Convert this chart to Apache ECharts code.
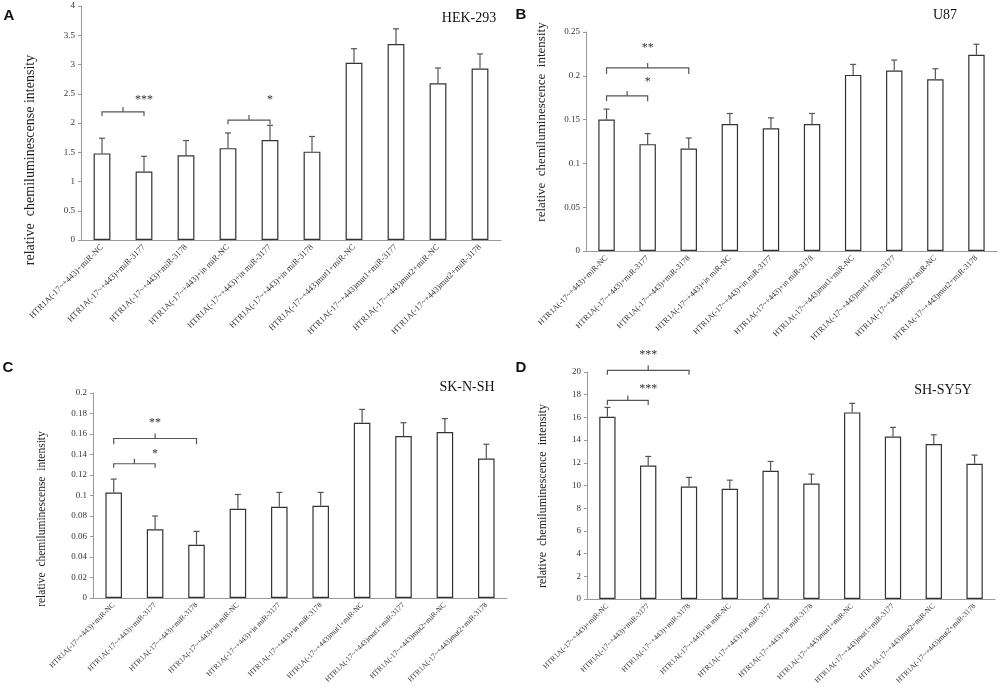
<!DOCTYPE html>
<html>
<head>
<meta charset="utf-8">
<script src="https://cdn.jsdelivr.net/npm/echarts@6/dist/echarts.min.js"></script>
<style>
  html, body { margin: 0; padding: 0; background: #fff; }
  #main { width: 1000px; height: 689px; }
</style>
</head>
<body>
<div id="main"></div>
<script>
const categories = [
  'HTR1A(-17~+443)+miR-NC',
  'HTR1A(-17~+443)+miR-3177',
  'HTR1A(-17~+443)+miR-3178',
  'HTR1A(-17~+443)+in miR-NC',
  'HTR1A(-17~+443)+in miR-3177',
  'HTR1A(-17~+443)+in miR-3178',
  'HTR1A(-17~+443)mut1+miR-NC',
  'HTR1A(-17~+443)mut1+miR-3177',
  'HTR1A(-17~+443)mut2+miR-NC',
  'HTR1A(-17~+443)mut2+miR-3178'
]

// HEK-293
const hekValues = [1.48, 1.17, 1.45, 1.57, 1.71, 1.51, 3.03, 3.35, 2.68, 2.93]
const hekErrors = [0.26, 0.26, 0.25, 0.26, 0.25, 0.26, 0.24, 0.26, 0.26, 0.25]
// U87
const u87Values = [0.150, 0.122, 0.117, 0.145, 0.140, 0.145, 0.201, 0.206, 0.196, 0.224]
const u87Errors = [0.012, 0.012, 0.012, 0.012, 0.012, 0.012, 0.012, 0.012, 0.012, 0.012]
// SK-N-SH
const sknValues = [0.103, 0.067, 0.052, 0.087, 0.089, 0.090, 0.171, 0.158, 0.162, 0.136]
const sknErrors = [0.013, 0.013, 0.013, 0.014, 0.014, 0.013, 0.013, 0.013, 0.013, 0.014]
// SH-SY5Y
const shsyValues = [16.06, 11.76, 9.91, 9.71, 11.29, 10.18, 16.44, 14.32, 13.65, 11.91]
const shsyErrors = [0.82, 0.80, 0.80, 0.76, 0.83, 0.82, 0.80, 0.80, 0.82, 0.77]

// significance brackets: [from, to, bracket y, end y, star y]
const hekBrackets = [[0, 1, 2.19, 2.12, 2.39], [3, 4, 2.05, 1.98, 2.39]]
const hekStars = ['***', '*']
const u87Brackets = [[0, 1, 0.177, 0.171, 0.193], [0, 2, 0.209, 0.202, 0.232]]
const u87Stars = ['*', '**']
const sknBrackets = [[0, 1, 0.131, 0.127, 0.141], [0, 2, 0.1556, 0.150, 0.171]]
const sknStars = ['*', '**']
const shsyBrackets = [[0, 1, 17.5, 17.1, 18.5], [0, 2, 20.15, 19.75, 21.5]]
const shsyStars = ['***', '***']

const serif = 'Liberation Serif'
const chart = echarts.init(document.getElementById('main'))

const grids = [
  { left: 81, top: 6, width: 420, height: 234 },
  { left: 586, top: 32, width: 411, height: 219 },
  { left: 93, top: 393, width: 414, height: 205 },
  { left: 587, top: 372, width: 408, height: 227 }
]
const yRanges = [[0, 4, 0.5], [0, 0.25, 0.05], [0, 0.2, 0.02], [0, 20, 2]]
const labelSizes = [8.5, 8, 7.5, 7.5]

function errorSeries(idx, values, errors) {
  return {
    type: 'custom',
    xAxisIndex: idx,
    yAxisIndex: idx,
    encode: { x: 0, y: 1 },
    data: values.map((v, i) => [i, v, errors[i]]),
    renderItem(params, api) {
      const p0 = api.coord([api.value(0), api.value(1)])
      const p1 = api.coord([api.value(0), api.value(1) + api.value(2)])
      const st = { stroke: '#555', lineWidth: 1.2 }
      return {
        type: 'group',
        children: [
          { type: 'line', shape: { x1: p0[0], y1: p0[1], x2: p1[0], y2: p1[1] }, style: st },
          { type: 'line', shape: { x1: p1[0] - 3, y1: p1[1], x2: p1[0] + 3, y2: p1[1] }, style: st }
        ]
      }
    },
    z: 3
  }
}

function bracketSeries(idx, brackets, stars) {
  return {
    type: 'custom',
    xAxisIndex: idx,
    yAxisIndex: idx,
    clip: false,
    encode: { x: 0, y: 2 },
    data: brackets,
    renderItem(params, api) {
      const b = brackets[params.dataIndex]
      const a = api.coord([b[0], b[2]])
      const c = api.coord([b[1], b[2]])
      const a0 = api.coord([b[0], b[3]])
      const s = api.coord([(b[0] + b[1]) / 2, b[4]])
      const mid = (a[0] + c[0]) / 2
      const st = { stroke: '#555', lineWidth: 1.2, fill: null }
      return {
        type: 'group',
        children: [
          { type: 'polyline', shape: { points: [[a[0], a0[1]], [a[0], a[1]], [c[0], c[1]], [c[0], a0[1]]] }, style: st },
          { type: 'line', shape: { x1: mid, y1: a[1], x2: mid, y2: a[1] - 5 }, style: st },
          { type: 'text', x: s[0], y: s[1], style: { text: stars[params.dataIndex], fontFamily: serif, fontSize: 12, fill: '#333', align: 'center', verticalAlign: 'middle' } }
        ]
      }
    },
    z: 4
  }
}

const panels = [
  [hekValues, hekErrors, hekBrackets, hekStars],
  [u87Values, u87Errors, u87Brackets, u87Stars],
  [sknValues, sknErrors, sknBrackets, sknStars],
  [shsyValues, shsyErrors, shsyBrackets, shsyStars]
]

const series = []
panels.forEach((p, i) => {
  series.push({
    type: 'bar',
    xAxisIndex: i,
    yAxisIndex: i,
    data: p[0],
    barWidth: '40%',
    itemStyle: { color: '#fff', borderColor: '#333', borderWidth: 1.2 },
    z: 2
  })
  series.push(errorSeries(i, p[0], p[1]))
  series.push(bracketSeries(i, p[2], p[3]))
})

function yTitle(x, y, text, size) {
  return {
    type: 'text', x: x, y: y, rotation: Math.PI / 2,
    style: { text: text, fontFamily: serif, fontSize: size, fill: '#222', align: 'center', verticalAlign: 'middle' }
  }
}
function plainText(x, y, text, size, bold, family) {
  return {
    type: 'text', x: x, y: y,
    style: { text: text, fontFamily: family || serif, fontSize: size, fontWeight: bold ? 'bold' : 'normal', fill: '#111', align: 'center', verticalAlign: 'middle' }
  }
}

chart.setOption({
  animation: false,
  backgroundColor: '#fff',
  grid: grids,
  xAxis: grids.map((g, i) => ({
    type: 'category',
    gridIndex: i,
    data: categories,
    axisLine: { lineStyle: { color: '#999' } },
    axisTick: { lineStyle: { color: '#999' }, length: 4 },
    axisLabel: { interval: 0, rotate: 45, margin: 6, fontFamily: serif, fontSize: labelSizes[i], color: '#333' }
  })),
  yAxis: grids.map((g, i) => ({
    type: 'value',
    gridIndex: i,
    min: yRanges[i][0],
    max: yRanges[i][1],
    interval: yRanges[i][2],
    splitLine: { show: false },
    axisLine: { show: true, lineStyle: { color: '#999' } },
    axisTick: { show: true, length: 3, lineStyle: { color: '#999' } },
    axisLabel: { fontFamily: serif, fontSize: 9, color: '#333', margin: 6 }
  })),
  series: series,
  graphic: [
    plainText(9, 16, 'A', 15, true, 'Liberation Sans'),
    plainText(521, 15, 'B', 15, true, 'Liberation Sans'),
    plainText(8, 368, 'C', 15, true, 'Liberation Sans'),
    plainText(521, 368, 'D', 15, true, 'Liberation Sans'),
    plainText(469, 18, 'HEK-293', 14),
    plainText(945, 15, 'U87', 14),
    plainText(467, 387, 'SK-N-SH', 14),
    plainText(943, 390, 'SH-SY5Y', 14),
    yTitle(30, 160, 'relative  chemiluminescense intensity', 14),
    yTitle(542, 122, 'relative  chemiluminescence  intensity', 13),
    yTitle(42, 519, 'relative  chemiluminescense  intensity', 11.5),
    yTitle(543, 496, 'relative  chemiluminescence  intensity', 12)
  ]
})
</script>
</body>
</html>
